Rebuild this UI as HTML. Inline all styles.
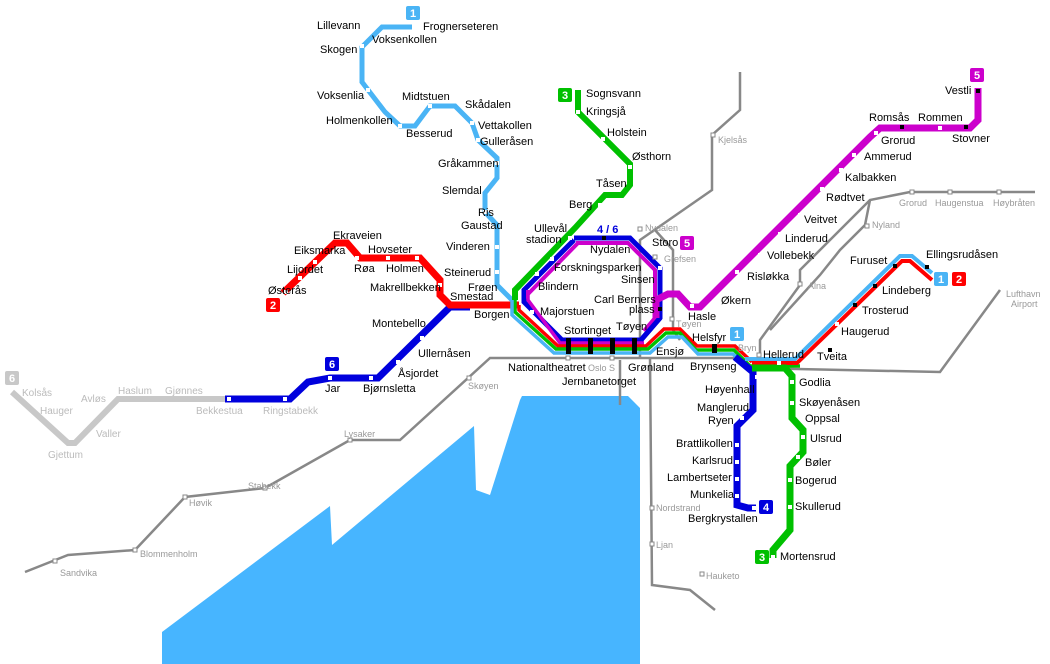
<!DOCTYPE html>
<html><head><meta charset="utf-8"><style>
html,body{margin:0;padding:0;background:#fff;}
svg{display:block;}
text{font-family:"Liberation Sans",sans-serif;font-size:11px;fill:#000;}
.g{fill:#999;font-size:9px;}
.lg{fill:#bbb;font-size:10px;}
.n{font-weight:bold;fill:#fff;font-size:11px;text-anchor:middle;}
</style></head><body>
<svg width="1050" height="664" viewBox="0 0 1050 664" xmlns="http://www.w3.org/2000/svg">
<g fill="none" stroke-linejoin="miter">
<polygon points="162,664 162,632 330,506 332,545 474,426 476,490 490,495 520,400 522,396 628,396 640,408 640,664" fill="#47b5ff" stroke="none"/>
<g stroke="#888" stroke-width="2.5">
<polyline points="25,572 68,555 135,550 185,497 265,488 350,440 400,440 490,358 740,358 750,368 940,372 1000,290"/>
<polyline points="650,358 652,585 690,590 715,610"/>
<polyline points="740,72 740,110 712,135 712,190 640,240 640,358"/>
<polyline points="620,405 620,360"/>
<polyline points="655,230 673,250 673,330 680,340"/>
<polyline points="760,360 760,340 800,285 800,270 860,210 870,200 910,192 1035,192"/>
<polyline points="870,200 865,225 840,250 820,275 770,330"/>
</g>
<polyline points="12,392 68,443 75,443 118,399 225,399" stroke="#c8c8c8" stroke-width="6"/>
<polyline points="225,399 290,399 308,382 330,378 378,378 450,307 470,307" stroke="#0000dd" stroke-width="7"/>
<polyline points="283,293 335,243 347,243 360,258 420,258 440,280 440,295 450,305 519,305" stroke="#ff0000" stroke-width="7"/>
<!-- light blue north -->
<polyline points="412,27 382,27 362,47 362,82 385,112 400,126 415,126 430,106 455,106 472,123 478,140 497,158 497,178 485,193 485,212 497,225 497,285 512,300" stroke="#4ab4f5" stroke-width="5"/>
<!-- green north -->
<polyline points="578,90 578,112 630,164 630,185 622,195 605,195 575,228 515,290 515,300" stroke="#00c000" stroke-width="6"/>
<!-- loop -->
<polyline points="574,238 630,238 660,268 660,318 641,340 562,340 524,302 524,290 574,240" stroke="#0000dd" stroke-width="5"/>
<polyline points="576,243 628,243 655,270 655,318 644,331" stroke="#cc00cc" stroke-width="4"/>
<polyline points="528,290 528,294 578,243" stroke="#cc00cc" stroke-width="4"/>
<!-- bundle -->
<polyline points="528,294 528,300 560,343 644,343" stroke="#cc00cc" stroke-width="3.5"/>
<polyline points="519,305 519,310 558,346 646,346 664,329 680,329 697,346 735,346 752,362" stroke="#ff0000" stroke-width="3.5"/>
<polyline points="515,298 515,312 556,349 648,349 666,333 680,333 696,350 734,350 750,366 800,366" stroke="#00c000" stroke-width="3.5"/>
<polyline points="512,300 512,315 554,353 650,353 668,337 682,337 698,354 733,354 745,366" stroke="#4ab4f5" stroke-width="3.5"/>
<polyline points="641,340 660,318" stroke="#0000dd" stroke-width="5"/>
<polyline points="735,357 753,372 753,410 737,426 737,505 748,508 756,508" stroke="#0000dd" stroke-width="7"/>
<polyline points="745,359 795,359 900,256 912,256 932,273" stroke="#4ab4f5" stroke-width="4"/>
<polyline points="752,363 797,363 902,261 910,261 932,280" stroke="#ff0000" stroke-width="4"/>
<polyline points="752,368 785,368 792,376 792,418 803,430 803,452 790,466 790,530 773,550 773,558" stroke="#00c000" stroke-width="7"/>
<polyline points="656,318 656,300 668,294 678,294 690,307 700,307 870,137 880,128 905,128 970,128 978,120 978,88" stroke="#cc00cc" stroke-width="7"/>
</g>
<g fill="#fff" stroke="none">
<rect x="360" y="44" width="4" height="4"/><rect x="366" y="88" width="4" height="4"/><rect x="398" y="124" width="4" height="4"/><rect x="428" y="104" width="4" height="4"/><rect x="470" y="121" width="4" height="4"/><rect x="476" y="138" width="4" height="4"/><rect x="495" y="161" width="4" height="4"/><rect x="495" y="188" width="4" height="4"/><rect x="483" y="210" width="4" height="4"/><rect x="495" y="245" width="4" height="4"/><rect x="495" y="270" width="4" height="4"/>
<rect x="576" y="110" width="4" height="4"/><rect x="601" y="137" width="4" height="4"/><rect x="628" y="165" width="4" height="4"/><rect x="598" y="203" width="4" height="4"/>
<rect x="535" y="272" width="4" height="4"/><rect x="550" y="257" width="4" height="4"/><rect x="568" y="236" width="4" height="4"/><rect x="658" y="266" width="4" height="4"/>
<rect x="313" y="260" width="4" height="4"/><rect x="298" y="276" width="4" height="4"/><rect x="284" y="290" width="4" height="4"/><rect x="355" y="256" width="4" height="4"/><rect x="386" y="256" width="4" height="4"/><rect x="415" y="256" width="4" height="4"/><rect x="438" y="283" width="4" height="4"/>
<rect x="227" y="397" width="4" height="4"/><rect x="283" y="397" width="4" height="4"/><rect x="328" y="376" width="4" height="4"/><rect x="369" y="376" width="4" height="4"/><rect x="396" y="360" width="4" height="4"/><rect x="420" y="336" width="4" height="4"/>
<rect x="755" y="375" width="4" height="4"/><rect x="740" y="416" width="4" height="4"/><rect x="735" y="443" width="4" height="4"/><rect x="735" y="460" width="4" height="4"/><rect x="735" y="477" width="4" height="4"/><rect x="735" y="494" width="4" height="4"/><rect x="752" y="506" width="4" height="4"/>
<rect x="790" y="380" width="4" height="4"/><rect x="790" y="401" width="4" height="4"/><rect x="801" y="435" width="4" height="4"/><rect x="796" y="455" width="4" height="4"/><rect x="788" y="478" width="4" height="4"/><rect x="788" y="505" width="4" height="4"/><rect x="771" y="555" width="4" height="4"/>
<rect x="690" y="304" width="4" height="4"/><rect x="735" y="270" width="4" height="4"/><rect x="758" y="253" width="4" height="4"/><rect x="778" y="232" width="4" height="4"/><rect x="798" y="213" width="4" height="4"/><rect x="820" y="187" width="4" height="4"/><rect x="839" y="168" width="4" height="4"/><rect x="852" y="153" width="4" height="4"/><rect x="874" y="131" width="4" height="4"/><rect x="938" y="126" width="4" height="4"/>
<rect x="777" y="361" width="4" height="4"/><rect x="835" y="322" width="4" height="4"/><rect x="530" y="310" width="4" height="4"/>
</g>
<g fill="#000">
<rect x="566" y="338" width="5" height="16"/><rect x="588" y="338" width="5" height="16"/><rect x="610" y="338" width="5" height="16"/><rect x="632" y="338" width="5" height="16"/>
<rect x="602" y="236" width="4" height="4"/><rect x="658" y="307" width="4" height="4"/><rect x="712" y="344" width="5" height="9"/>
<rect x="900" y="125" width="4" height="4"/><rect x="964" y="125" width="4" height="4"/><rect x="976" y="89" width="4" height="4"/>
<rect x="853" y="303" width="4" height="4"/><rect x="873" y="284" width="4" height="4"/><rect x="893" y="264" width="4" height="4"/><rect x="925" y="265" width="4" height="4"/><rect x="828" y="348" width="4" height="4"/>
</g>
<g fill="#fff" stroke="#888" stroke-width="1">
<rect x="711" y="133" width="4" height="4"/><rect x="638" y="227" width="4" height="4"/><rect x="653" y="255" width="4" height="4"/><rect x="670" y="317" width="4" height="4"/><rect x="757" y="353" width="4" height="4"/><rect x="798" y="282" width="4" height="4"/><rect x="865" y="224" width="4" height="4"/><rect x="910" y="190" width="4" height="4"/><rect x="948" y="190" width="4" height="4"/><rect x="997" y="190" width="4" height="4"/><rect x="467" y="376" width="4" height="4"/><rect x="348" y="438" width="4" height="4"/><rect x="263" y="486" width="4" height="4"/><rect x="183" y="495" width="4" height="4"/><rect x="133" y="548" width="4" height="4"/><rect x="53" y="559" width="4" height="4"/><rect x="566" y="356" width="4" height="4"/><rect x="610" y="356" width="4" height="4"/><rect x="650" y="506" width="4" height="4"/><rect x="650" y="542" width="4" height="4"/><rect x="700" y="572" width="4" height="4"/>
</g>
<g>
<rect x="406" y="6" width="14" height="14" rx="2" fill="#4ab4f5"/><text x="413" y="17" class="n">1</text>
<rect x="558" y="88" width="14" height="14" rx="2" fill="#00c000"/><text x="565" y="99" class="n">3</text>
<rect x="970" y="68" width="14" height="14" rx="2" fill="#cc00cc"/><text x="977" y="79" class="n">5</text>
<rect x="680" y="236" width="14" height="14" rx="2" fill="#cc00cc"/><text x="687" y="247" class="n">5</text>
<rect x="266" y="298" width="14" height="14" rx="2" fill="#ff0000"/><text x="273" y="309" class="n">2</text>
<rect x="325" y="357" width="14" height="14" rx="2" fill="#0000dd"/><text x="332" y="368" class="n">6</text>
<rect x="5" y="371" width="14" height="14" rx="2" fill="#c8c8c8"/><text x="12" y="382" class="n">6</text>
<rect x="730" y="327" width="14" height="14" rx="2" fill="#4ab4f5"/><text x="737" y="338" class="n">1</text>
<rect x="934" y="272" width="14" height="14" rx="2" fill="#4ab4f5"/><text x="941" y="283" class="n">1</text>
<rect x="952" y="272" width="14" height="14" rx="2" fill="#ff0000"/><text x="959" y="283" class="n">2</text>
<rect x="759" y="500" width="14" height="14" rx="2" fill="#0000dd"/><text x="766" y="511" class="n">4</text>
<rect x="755" y="550" width="14" height="14" rx="2" fill="#00c000"/><text x="762" y="561" class="n">3</text>
</g>
<text x="423" y="30">Frognerseteren</text><text x="317" y="29">Lillevann</text><text x="372" y="43">Voksenkollen</text><text x="320" y="53">Skogen</text>
<text x="317" y="99">Voksenlia</text><text x="326" y="124">Holmenkollen</text><text x="406" y="137">Besserud</text><text x="402" y="100">Midtstuen</text><text x="465" y="108">Skådalen</text><text x="478" y="129">Vettakollen</text><text x="480" y="145">Gulleråsen</text><text x="438" y="167">Gråkammen</text><text x="442" y="194">Slemdal</text><text x="478" y="216">Ris</text><text x="461" y="229">Gaustad</text><text x="446" y="250">Vinderen</text><text x="444" y="276">Steinerud</text><text x="468" y="291">Frøen</text><text x="450" y="300">Smestad</text><text x="474" y="318">Borgen</text>
<text x="586" y="97">Sognsvann</text><text x="586" y="115">Kringsjå</text><text x="607" y="136">Holstein</text><text x="632" y="160">Østhorn</text><text x="596" y="187">Tåsen</text><text x="569" y="208">Berg</text>
<text x="534" y="232">Ullevål</text><text x="526" y="243">stadion</text><text x="597" y="233" style="fill:#0000dd;font-weight:bold">4 / 6</text><text x="590" y="253">Nydalen</text><text x="652" y="246">Storo</text><text x="554" y="271">Forskningsparken</text><text x="621" y="283">Sinsen</text><text x="538" y="290">Blindern</text><text x="540" y="315">Majorstuen</text><text x="594" y="303">Carl Berners</text><text x="629" y="313">plass</text>
<text x="564" y="334">Stortinget</text><text x="616" y="330">Tøyen</text><text x="656" y="355">Ensjø</text><text x="692" y="341">Helsfyr</text><text x="690" y="370">Brynseng</text><text x="763" y="358">Hellerud</text><text x="817" y="360">Tveita</text>
<text x="508" y="371">Nationaltheatret</text><text x="562" y="385">Jernbanetorget</text><text x="628" y="371">Grønland</text>
<text x="294" y="254">Eiksmarka</text><text x="333" y="239">Ekraveien</text><text x="368" y="253">Hovseter</text><text x="354" y="272">Røa</text><text x="386" y="272">Holmen</text><text x="287" y="273">Lijordet</text><text x="268" y="294">Østerås</text><text x="370" y="291">Makrellbekken</text>
<text x="372" y="327">Montebello</text><text x="418" y="357">Ullernåsen</text><text x="398" y="377">Åsjordet</text><text x="363" y="392">Bjørnsletta</text><text x="325" y="392">Jar</text>
<text x="705" y="393">Høyenhall</text><text x="697" y="411">Manglerud</text><text x="708" y="424">Ryen</text><text x="676" y="447">Brattlikollen</text><text x="692" y="464">Karlsrud</text><text x="667" y="481">Lambertseter</text><text x="690" y="498">Munkelia</text><text x="688" y="522">Bergkrystallen</text>
<text x="799" y="386">Godlia</text><text x="799" y="406">Skøyenåsen</text><text x="805" y="422">Oppsal</text><text x="810" y="442">Ulsrud</text><text x="805" y="466">Bøler</text><text x="795" y="484">Bogerud</text><text x="795" y="510">Skullerud</text><text x="780" y="560">Mortensrud</text>
<text x="688" y="320">Hasle</text><text x="721" y="304">Økern</text><text x="747" y="280">Risløkka</text><text x="767" y="259">Vollebekk</text><text x="785" y="242">Linderud</text><text x="804" y="223">Veitvet</text><text x="826" y="201">Rødtvet</text><text x="845" y="181">Kalbakken</text><text x="864" y="160">Ammerud</text><text x="881" y="144">Grorud</text><text x="869" y="121">Romsås</text><text x="918" y="121">Rommen</text><text x="952" y="142">Stovner</text><text x="945" y="94">Vestli</text>
<text x="841" y="335">Haugerud</text><text x="862" y="314">Trosterud</text><text x="882" y="294">Lindeberg</text><text x="850" y="264">Furuset</text><text x="926" y="258">Ellingsrudåsen</text>
<text x="22" y="396" class="lg">Kolsås</text><text x="40" y="414" class="lg">Hauger</text><text x="81" y="402" class="lg">Avløs</text><text x="118" y="394" class="lg">Haslum</text><text x="165" y="394" class="lg">Gjønnes</text><text x="196" y="414" class="lg">Bekkestua</text><text x="263" y="414" class="lg">Ringstabekk</text><text x="96" y="437" class="lg">Valler</text><text x="48" y="458" class="lg">Gjettum</text>
<text x="718" y="143" class="g">Kjelsås</text><text x="645" y="231" class="g">Nydalen</text><text x="664" y="262" class="g">Grefsen</text><text x="676" y="327" class="g">Tøyen</text><text x="738" y="351" class="g">Bryn</text><text x="808" y="289" class="g">Alna</text><text x="872" y="228" class="g">Nyland</text><text x="899" y="206" class="g">Grorud</text><text x="935" y="206" class="g">Haugenstua</text><text x="993" y="206" class="g">Høybråten</text><text x="1006" y="297" class="g">Lufthavn</text><text x="1011" y="307" class="g">Airport</text>
<text x="468" y="389" class="g">Skøyen</text><text x="588" y="371" class="g">Oslo S</text><text x="344" y="437" class="g">Lysaker</text><text x="248" y="489" class="g">Stabekk</text><text x="189" y="506" class="g">Høvik</text><text x="140" y="557" class="g">Blommenholm</text><text x="60" y="576" class="g">Sandvika</text><text x="656" y="511" class="g">Nordstrand</text><text x="656" y="548" class="g">Ljan</text><text x="706" y="579" class="g">Hauketo</text>
</svg>
</body></html>
